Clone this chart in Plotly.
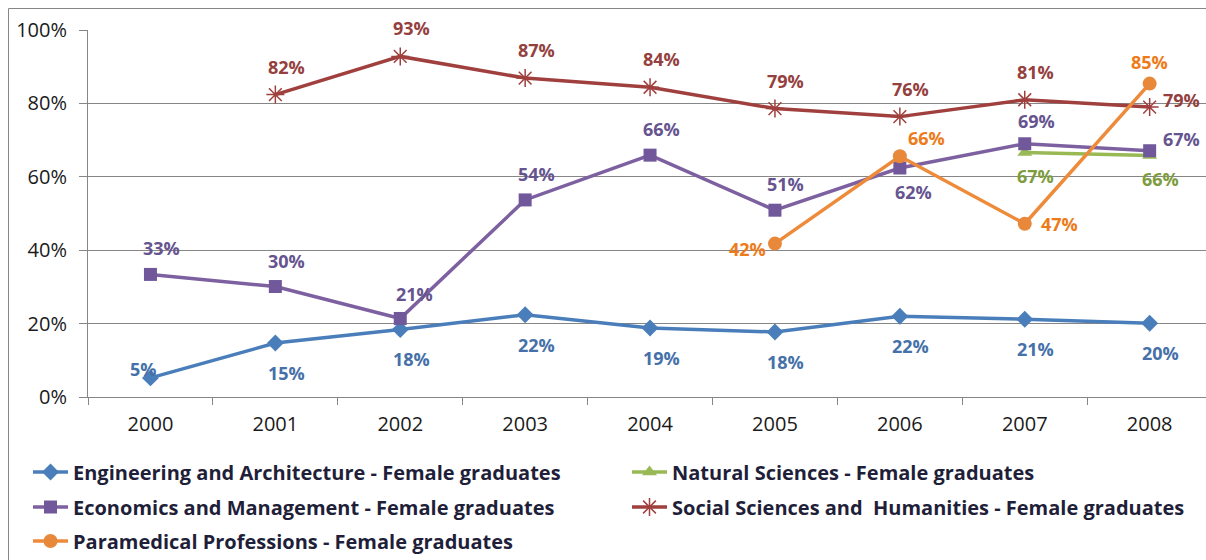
import plotly.graph_objects as go

years = ["2000", "2001", "2002", "2003", "2004", "2005", "2006", "2007", "2008"]

engineering = [0.052, 0.147, 0.184, 0.224, 0.188, 0.177, 0.220, 0.212, 0.201]
natural = [None, None, None, None, None, None, None, 0.666, 0.658]
economics = [0.334, 0.301, 0.214, 0.537, 0.659, 0.509, 0.624, 0.690, 0.671]
social = [None, 0.824, 0.928, 0.869, 0.844, 0.786, 0.764, 0.810, 0.790]
paramedical = [None, None, None, None, None, 0.418, 0.656, 0.472, 0.854]

names = [
    "Engineering and Architecture - Female graduates",
    "Natural Sciences - Female graduates",
    "Economics and Management - Female graduates",
    "Social Sciences and  Humanities - Female graduates",
    "Paramedical Professions - Female graduates",
]

# body margin is removed by the post script, so figure pixels == window pixels
W, H = 1206, 560
L, T, B = 88, 30, 163
FONT = "Open Sans"
CAT_W = 124.9  # pixels per category

# label offsets (dx, dy in pixels, screen direction) -- styling only
ABOVE, BELOW = (11, -26), (11, 30)
series = [
    dict(y=engineering, name=names[0], line="#4A7EBB", marker=dict(symbol="diamond", size=13, color="#4A7EBB"),
         text_color="#4671A8",
         off=[(-7, -9)] + [BELOW] * 8),
    dict(y=natural, name=names[1], line="#98B954", marker=dict(symbol="triangle-up", size=13, color="#98B954"),
         text_color="#7D9C3E",
         off=[(11, 23)] * 9),
    dict(y=economics, name=names[2], line="#7D60A0", marker=dict(symbol="square", size=13, color="#70589A"),
         text_color="#66548F",
         off=[ABOVE, ABOVE, (14, -24), ABOVE, ABOVE, ABOVE, (14, 24), (12, -23), (32, -12)]),
    dict(y=social, name=names[3], line="#A0403E", marker=dict(symbol="asterisk-open", size=15, color="#A0403E",
                                                          line=dict(width=1.5, color="#A0403E")),
         text_color="#94403E",
         off=[(11, -28)] * 8 + [(32, -7)]),
    dict(y=paramedical, name=names[4], line="#EE8B3A", marker=dict(symbol="circle", size=14, color="#E8883A"),
         text_color="#EE7B1A",
         off=[(0, 0)] * 5 + [(-27, 5), (27, -18), (35, 0), (0, -22)]),
]

fig = go.Figure()
legend_ids = ["legend", "legend2", "legend3", "legend4", "legend5"]
for i, s in enumerate(series):
    xs = [x for x, v in zip(years, s["y"]) if v is not None]
    ys = [v for v in s["y"] if v is not None]
    fig.add_trace(go.Scatter(
        x=xs, y=ys, name=s["name"], mode="lines+markers",
        line=dict(color=s["line"], width=3.5),
        marker=s["marker"],
        legend=legend_ids[i],
        cliponaxis=False,
    ))

annotations = []
for s in series:
    for idx, (v, (dx, dy)) in enumerate(zip(s["y"], s["off"])):
        if v is None:
            continue
        annotations.append(go.layout.Annotation(
            x=idx, y=v, xref="x", yref="y", text="<b>%d%%</b>" % round(v * 100), showarrow=False,
            xshift=dx, yshift=-dy,
            font=dict(family=FONT, size=18, color=s["text_color"]),
        ))

# legend positions (pixel centres in the figure)
leg_pos = [(28, 472), (627, 472), (28, 507), (627, 507), (28, 541)]
legend_layout = {}
for lid, (px, py) in zip(legend_ids, leg_pos):
    legend_layout[lid] = dict(
        x=px / W, y=1 - py / H, xref="container", yref="container",
        xanchor="left", yanchor="middle",
        bgcolor="rgba(0,0,0,0)",
        font=dict(family=FONT, size=20, color="#1F1F3A", weight="bold"),
        itemwidth=35,
    )

fig.update_layout(
    width=W, height=H,
    margin=dict(l=L, r=0, t=T, b=B, autoexpand=False),
    paper_bgcolor="white", plot_bgcolor="white",
    font=dict(family=FONT, size=20, color="#1a1a1a"),
    showlegend=True,
    annotations=annotations,
    **legend_layout,
)

fig.update_xaxes(
    type="category", categoryorder="array", categoryarray=years,
    range=[-0.5, -0.5 + (W - L) / CAT_W], tickson="boundaries",
    ticks="outside", ticklen=7, tickcolor="#868686",
    showline=True, linecolor="#868686", linewidth=1,
    showgrid=False, ticklabelstandoff=9,
    tickfont=dict(family=FONT, size=20, color="#1a1a1a"),
)
fig.update_yaxes(
    range=[0, 1], tickvals=[0, 0.2, 0.4, 0.6, 0.8, 1.0], tickformat=".0%",
    ticks="outside", ticklen=8, tickcolor="#868686",
    showline=True, linecolor="#868686", linewidth=1,
    showgrid=True, gridcolor="#868686", gridwidth=1,
    zeroline=False, ticklabelstandoff=8,
    tickfont=dict(family=FONT, size=20, color="#1a1a1a"),
)

# chart area border (left and top edges visible)
pw, ph = W - L, H - T - B
fig.add_shape(type="rect", xref="paper", yref="paper",
              x0=(8.5 - L) / pw, x1=(W + 10 - L) / pw,
              y0=(H - B - (H + 10)) / ph, y1=(H - B - 8.5) / ph,
              line=dict(color="#868686", width=1), fillcolor="rgba(0,0,0,0)", layer="below")

fig.write_html(
    "out.html",
    config={"displayModeBar": False},
    post_script="document.body.style.margin='0';document.body.style.overflow='hidden';",
)
